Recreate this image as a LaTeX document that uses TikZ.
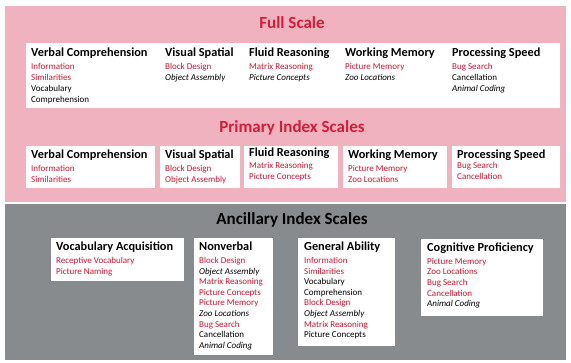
\documentclass[tikz,border=0pt]{standalone}
\usepackage{fontspec}
\setmainfont{Carlito}
\definecolor{pinkbg}{RGB}{240,178,190}
\definecolor{graybg}{RGB}{136,139,141}
\definecolor{redtxt}{RGB}{200,24,52}
\definecolor{titlered}{RGB}{210,30,60}
\newcommand{\rd}[1]{\textcolor{redtxt}{#1}}
\tikzset{
  panel/.style={fill=white,draw=none},
  head/.style={anchor=north west,inner sep=0pt,font=\bfseries\fontsize{12.3}{13}\selectfont,text=black},
  items/.style={anchor=north west,inner sep=0pt,align=left,font=\fontsize{9}{11}\selectfont,text=black},
  itemsb/.style={items,font=\fontsize{9}{10.6}\selectfont},
  title/.style={inner sep=0pt,font=\bfseries\fontsize{17}{19}\selectfont},
}
\begin{document}
\begin{tikzpicture}[x=1pt,y=-1pt]
\useasboundingbox (0,0) rectangle (571,362);
\fill[white] (0,0) rectangle (571,362);
% backgrounds
\fill[pinkbg] (5,6) rectangle (566,202);
\fill[graybg] (5,204) rectangle (566,360);
% Full scale
\node[title,text=titlered] (fs) at (292,23) {Full Scale};
\fill[panel] (26,43) rectangle (560,108);
\node[head] (fs1h) at (31,47.5) {Verbal Comprehension};
\node[items] (fs1i) at (31,63) {\rd{Information}\\\rd{Similarities}\\Vocabulary\\Comprehension};
\node[head] (fs2h) at (165,47.5) {Visual Spatial};
\node[items] (fs2i) at (165,63) {\rd{Block Design}\\\textit{Object Assembly}};
\node[head] (fs3h) at (249,47.5) {Fluid Reasoning};
\node[items] (fs3i) at (249,63) {\rd{Matrix Reasoning}\\\textit{Picture Concepts}};
\node[head] (fs4h) at (345,47.5) {Working Memory};
\node[items] (fs4i) at (345,63) {\rd{Picture Memory}\\\textit{Zoo Locations}};
\node[head] (fs5h) at (452,47.5) {Processing Speed};
\node[items] (fs5i) at (452,63) {\rd{Bug Search}\\Cancellation\\\textit{Animal Coding}};
% Primary index
\node[title,text=titlered] (pi) at (292,128) {Primary Index Scales};
\fill[panel] (26,146) rectangle (155,188);
\fill[panel] (160,146) rectangle (240,188);
\fill[panel] (244,146) rectangle (338,188);
\fill[panel] (343,146) rectangle (447,188);
\fill[panel] (452,146) rectangle (560,188);
\node[head] (pi1h) at (31,150) {Verbal Comprehension};
\node[items] (pi1i) at (31,165) {\rd{Information}\\\rd{Similarities}};
\node[head] (pi2h) at (165,150) {Visual Spatial};
\node[items] (pi2i) at (165,165) {\rd{Block Design}\\\rd{Object Assembly}};
\node[head] (pi3h) at (249,148) {Fluid Reasoning};
\node[items] (pi3i) at (249,162.5) {\rd{Matrix Reasoning}\\\rd{Picture Concepts}};
\node[head] (pi4h) at (348,150) {Working Memory};
\node[items] (pi4i) at (348,165) {\rd{Picture Memory}\\\rd{Zoo Locations}};
\node[head] (pi5h) at (457,150) {Processing Speed};
\node[items] (pi5i) at (457,162.5) {\rd{Bug Search}\\\rd{Cancellation}};
% Ancillary
\node[title,text=black] (ai) at (292,220) {Ancillary Index Scales};
\fill[panel] (51,238) rectangle (184,281);
\fill[panel] (194,238) rectangle (273,355);
\fill[panel] (298,238) rectangle (395,346);
\fill[panel] (421,239) rectangle (543,316);
\node[head] (a1h) at (56,242) {Vocabulary Acquisition};
\node[itemsb] (a1i) at (56,257) {\rd{Receptive Vocabulary}\\\rd{Picture Naming}};
\node[head] (a2h) at (199,242) {Nonverbal};
\node[itemsb] (a2i) at (199,257) {\rd{Block Design}\\\textit{Object Assembly}\\\rd{Matrix Reasoning}\\\rd{Picture Concepts}\\\rd{Picture Memory}\\\textit{Zoo Locations}\\\rd{Bug Search}\\Cancellation\\\textit{Animal Coding}};
\node[head] (a3h) at (304,242) {General Ability};
\node[itemsb] (a3i) at (304,257) {\rd{Information}\\\rd{Similarities}\\Vocabulary\\Comprehension\\\rd{Block Design}\\\textit{Object Assembly}\\\rd{Matrix Reasoning}\\Picture Concepts};
\node[head] (a4h) at (427,243) {Cognitive Proficiency};
\node[itemsb] (a4i) at (427,258) {\rd{Picture Memory}\\\rd{Zoo Locations}\\\rd{Bug Search}\\\rd{Cancellation}\\\textit{Animal Coding}};
\end{tikzpicture}
\end{document}
